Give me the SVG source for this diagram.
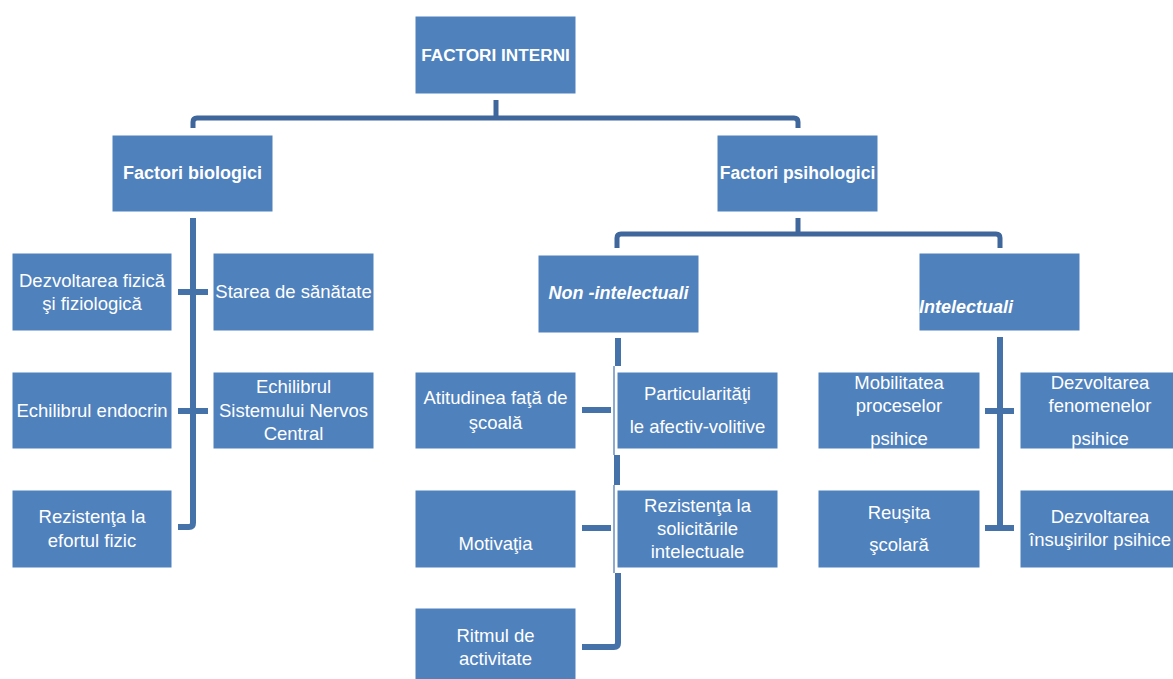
<svg xmlns="http://www.w3.org/2000/svg" width="1173" height="679" viewBox="0 0 1173 679">
<style>
.box{fill:#4F81BD;stroke:#ffffff;stroke-width:1}
.t{font-family:"Liberation Sans",Arial,sans-serif;font-size:18.5px;fill:#ffffff;text-anchor:middle}
.b{font-weight:bold;font-size:18px}
.bi{font-weight:bold;font-style:italic;font-size:18px}
.c{fill:none;stroke:#4672AA;stroke-width:6}
.c2{fill:none;stroke:#3F679C;stroke-width:5}
.thin{fill:none;stroke:#6C8DBE;stroke-width:1.5}
</style>
<rect width="1173" height="679" fill="#ffffff"/>
<g id="connectors">
<path class="c2" d="M496,100 V118"/>
<path class="c2" d="M193,128 V122 Q193,118 197,118 H794 Q798,118 798,122 V128"/>
<path class="c" d="M193,218 V523 Q193,527 189,527 H178"/>
<path class="c" d="M178,292 H208"/>
<path class="c" d="M178,411 H208"/>
<path class="c2" d="M798,218 V234"/>
<path class="c2" d="M617,248 V238 Q617,234 621,234 H996 Q1000,234 1000,238 V248"/>
<path class="thin" d="M614,366 V455 M614,485 V573"/>
<path class="c" d="M618,338 V366"/>
<path class="c" d="M617,455 V485"/>
<path class="c" d="M618,573 V643 Q618,647 614,647 H582"/>
<path class="c" d="M582,410 H611"/>
<path class="c" d="M582,528 H611"/>
<path class="c" d="M1000,337 V530"/>
<path class="c" d="M985,411 H1014"/>
<path class="c" d="M985,528 H1014"/>
</g>
<g id="n-factori-interni"><rect class="box" x="415" y="16" width="161" height="78"/><text class="t b" x="495.5" y="61" style="font-size:17.2px">FACTORI INTERNI</text></g>
<g id="n-biologici"><rect class="box" x="112" y="135" width="161" height="77"/><text class="t b" x="192.5" y="179">Factori biologici</text></g>
<g id="n-psihologici"><rect class="box" x="717" y="135" width="161" height="77"/><text class="t b" x="797.5" y="179" style="font-size:17.5px">Factori psihologici</text></g>
<g id="n-dezv-fizica"><rect class="box" x="12" y="253" width="160" height="78"/><text class="t" x="92" y="287">Dezvoltarea fizică</text><text class="t" x="92" y="310">şi fiziologică</text></g>
<g id="n-starea"><rect class="box" x="213" y="253" width="161" height="78"/><text class="t" x="293.5" y="298">Starea de sănătate</text></g>
<g id="n-endocrin"><rect class="box" x="12" y="372" width="160" height="77"/><text class="t" x="92" y="417">Echilibrul endocrin</text></g>
<g id="n-snc"><rect class="box" x="213" y="372" width="161" height="77"/><text class="t" x="293.5" y="393">Echilibrul</text><text class="t" x="293.5" y="417">Sistemului Nervos</text><text class="t" x="293.5" y="440">Central</text></g>
<g id="n-efort"><rect class="box" x="12" y="490" width="160" height="78"/><text class="t" x="92" y="523">Rezistenţa la</text><text class="t" x="92" y="547">efortul fizic</text></g>
<g id="n-non-intel"><rect class="box" x="538" y="255" width="161" height="78"/><text class="t bi" x="618.5" y="299">Non -intelectuali</text></g>
<g id="n-intel"><rect class="box" x="919" y="253" width="161" height="78"/><text class="t bi" x="919" y="313" style="text-anchor:start">Intelectuali</text></g>
<g id="n-atitudinea"><rect class="box" x="415" y="372" width="161" height="77"/><text class="t" x="495.5" y="404">Atitudinea faţă de</text><text class="t" x="495.5" y="429">şcoală</text></g>
<g id="n-particularitati"><rect class="box" x="617" y="372" width="161" height="77"/><text class="t" x="697.5" y="400">Particularităţi</text><text class="t" x="697.5" y="433">le afectiv-volitive</text></g>
<g id="n-motivatia"><rect class="box" x="415" y="490" width="161" height="78"/><text class="t" x="495.5" y="550">Motivaţia</text></g>
<g id="n-rezistenta-sol"><rect class="box" x="617" y="490" width="161" height="78"/><text class="t" x="697.5" y="512">Rezistenţa la</text><text class="t" x="697.5" y="535">solicitările</text><text class="t" x="697.5" y="558">intelectuale</text></g>
<g id="n-ritmul"><rect class="box" x="415" y="608" width="161" height="78"/><text class="t" x="495.5" y="642">Ritmul de</text><text class="t" x="495.5" y="665">activitate</text></g>
<g id="n-mobilitatea"><rect class="box" x="818" y="372" width="162" height="77"/><text class="t" x="899" y="389">Mobilitatea</text><text class="t" x="899" y="412">proceselor</text><text class="t" x="899" y="445">psihice</text></g>
<g id="n-fenomene"><rect class="box" x="1020" y="372" width="170" height="77"/><text class="t" x="1100" y="389">Dezvoltarea</text><text class="t" x="1100" y="412">fenomenelor</text><text class="t" x="1100" y="445">psihice</text></g>
<g id="n-reusita"><rect class="box" x="818" y="490" width="162" height="78"/><text class="t" x="899" y="519">Reuşita</text><text class="t" x="899" y="551">şcolară</text></g>
<g id="n-insusiri"><rect class="box" x="1020" y="490" width="170" height="78"/><text class="t" x="1100" y="523">Dezvoltarea</text><text class="t" x="1100" y="546">însuşirilor psihice</text></g>
</svg>
